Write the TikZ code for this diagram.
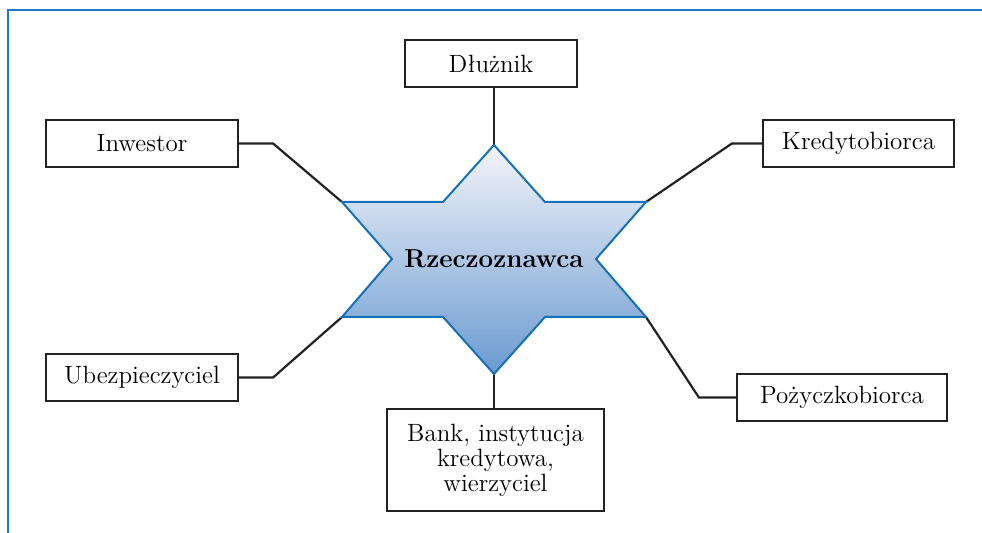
\documentclass[tikz,border=0pt]{standalone}
\usepackage{fontspec}
\usepackage{tikz}

\definecolor{frameblue}{HTML}{1A7CC8}
\definecolor{staredge}{HTML}{1670B5}
\definecolor{startop}{HTML}{F3F4FA}
\definecolor{starbottom}{HTML}{6A9AD0}
\definecolor{linegray}{HTML}{222222}

\begin{document}
\begin{tikzpicture}[x=0.5pt,y=-0.5pt,
  box/.style={draw=linegray,line width=1.1pt,fill=white,minimum height=23.5pt,inner sep=2pt,font=\fontsize{12.5}{12.5}\selectfont},
  link/.style={draw=linegray,line width=1.1pt}]
\useasboundingbox (0,0) rectangle (982,533);
\draw[frameblue,line width=0.8pt] (8,533) -- (8,10) -- (982,10);

% star corners
\coordinate (sT)  at (494,145);
\coordinate (sTR) at (545,202);
\coordinate (sUR) at (646,202);
\coordinate (sR)  at (596,259);
\coordinate (sLR) at (646,317);
\coordinate (sBR) at (545,317);
\coordinate (sB)  at (494,374);
\coordinate (sBL) at (443,317);
\coordinate (sLL) at (342,317);
\coordinate (sL)  at (392,259);
\coordinate (sUL) at (342,202);
\coordinate (sTL) at (443,202);

% roles
\node[box,minimum width=86pt]   (dluz) at (491,63.5)  {Dłużnik};
\node[box,minimum width=96pt]   (inw)  at (142,143.5) {Inwestor};
\node[box,minimum width=95.5pt] (kred) at (858.5,143.5) {Kredytobiorca};
\node[box,minimum width=96pt]   (ubez) at (142,377.5) {Ubezpieczyciel};
\node[box,minimum width=105pt]  (pozy) at (842,397.5) {Pożyczkobiorca};
\node[box,minimum width=108.5pt,minimum height=51pt,align=center] (bank) at (495.5,460)
  {Bank, instytucja\\kredytowa,\\wierzyciel};

% links
\draw[link] (dluz.south -| sT) -- (sT);
\draw[link] (inw.east) -- ++(34,0) -- (sUL);
\draw[link] (kred.west) -- ++(-30,0) -- (sUR);
\draw[link] (ubez.east) -- ++(34,0) -- (sLL);
\draw[link] (pozy.west) -- ++(-37,0) -- (sLR);
\draw[link] (sB) -- (sB |- bank.north);

% star
\draw[staredge,line width=1pt,top color=startop,bottom color=starbottom]
  (sT) -- (sTR) -- (sUR) -- (sR) -- (sLR) -- (sBR) -- (sB) -- (sBL)
  -- (sLL) -- (sL) -- (sUL) -- (sTL) -- cycle;
\node[font=\bfseries\fontsize{13}{15}\selectfont] (rzecz) at (494,259) {Rzeczoznawca};
\end{tikzpicture}
\end{document}
